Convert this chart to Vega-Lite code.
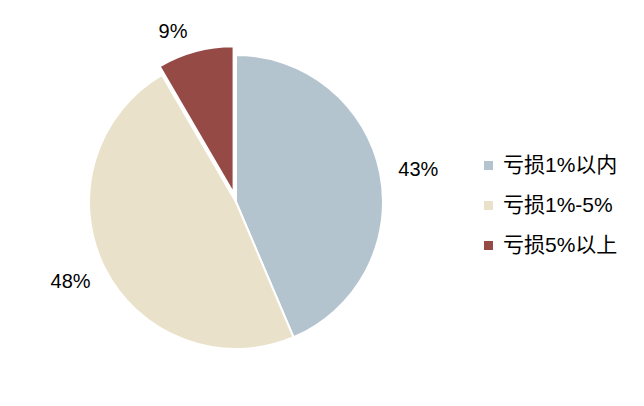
{
  "$schema": "https://vega.github.io/schema/vega-lite/v6.json",
  "width": 472,
  "height": 404,
  "padding": 0,
  "background": "white",
  "config": {"view": {"stroke": null}},
  "data": {"values": [
    {"cat": "亏损1%以内", "value": 43.6, "label": "43%", "idx": 1},
    {"cat": "亏损1%-5%", "value": 48.0, "label": "48%", "idx": 2},
    {"cat": "亏损5%以上", "value": 8.4, "label": "9%", "idx": 3}
  ]},
  "encoding": {
    "theta": {"field": "value", "type": "quantitative", "stack": true},
    "order": {"field": "idx", "type": "quantitative"}
  },
  "layer": [
    {
      "mark": {"type": "arc", "stroke": "white", "strokeWidth": 2},
      "encoding": {
        "radius": {"value": 147},
        "color": {
          "field": "cat", "type": "nominal",
          "sort": ["亏损1%以内", "亏损1%-5%", "亏损5%以上"],
          "scale": {"domain": ["亏损1%以内", "亏损1%-5%", "亏损5%以上"], "range": ["#B4C4CF", "#E9E1C9", "#954A46"]},
          "legend": {
            "title": null, "orient": "none", "legendX": 478, "legendY": 155,
            "symbolType": "square", "symbolSize": 81, "symbolStrokeWidth": 0,
            "labelFontSize": 21, "labelFont": "Liberation Sans, Noto Sans CJK SC", "labelColor": "#000",
            "rowPadding": 18, "labelOffset": 4
          }
        },
        "opacity": {"condition": {"test": "datum.cat === '亏损5%以上'", "value": 0}, "value": 1}
      }
    },
    {
      "mark": {"type": "arc", "stroke": "white", "strokeWidth": 2, "xOffset": -2.4, "yOffset": -8.7},
      "encoding": {
        "radius": {"value": 147},
        "color": {"field": "cat", "type": "nominal"},
        "opacity": {"condition": {"test": "datum.cat === '亏损5%以上'", "value": 1}, "value": 0}
      }
    },
    {
      "mark": {"type": "text", "fontSize": 20, "font": "Liberation Sans", "color": "#000", "dx": 2, "dy": 5},
      "encoding": {
        "radius": {"value": 184},
        "text": {"field": "label"},
        "opacity": {"condition": {"test": "datum.cat === '亏损1%以内'", "value": 1}, "value": 0}
      }
    },
    {
      "mark": {"type": "text", "fontSize": 20, "font": "Liberation Sans", "color": "#000", "dx": -1, "dy": -3},
      "encoding": {
        "radius": {"value": 184},
        "text": {"field": "label"},
        "opacity": {"condition": {"test": "datum.cat === '亏损1%-5%'", "value": 1}, "value": 0}
      }
    },
    {
      "mark": {"type": "text", "fontSize": 20, "font": "Liberation Sans", "color": "#000", "dx": -15, "dy": 8},
      "encoding": {
        "radius": {"value": 184},
        "text": {"field": "label"},
        "opacity": {"condition": {"test": "datum.cat === '亏损5%以上'", "value": 1}, "value": 0}
      }
    }
  ]
}
